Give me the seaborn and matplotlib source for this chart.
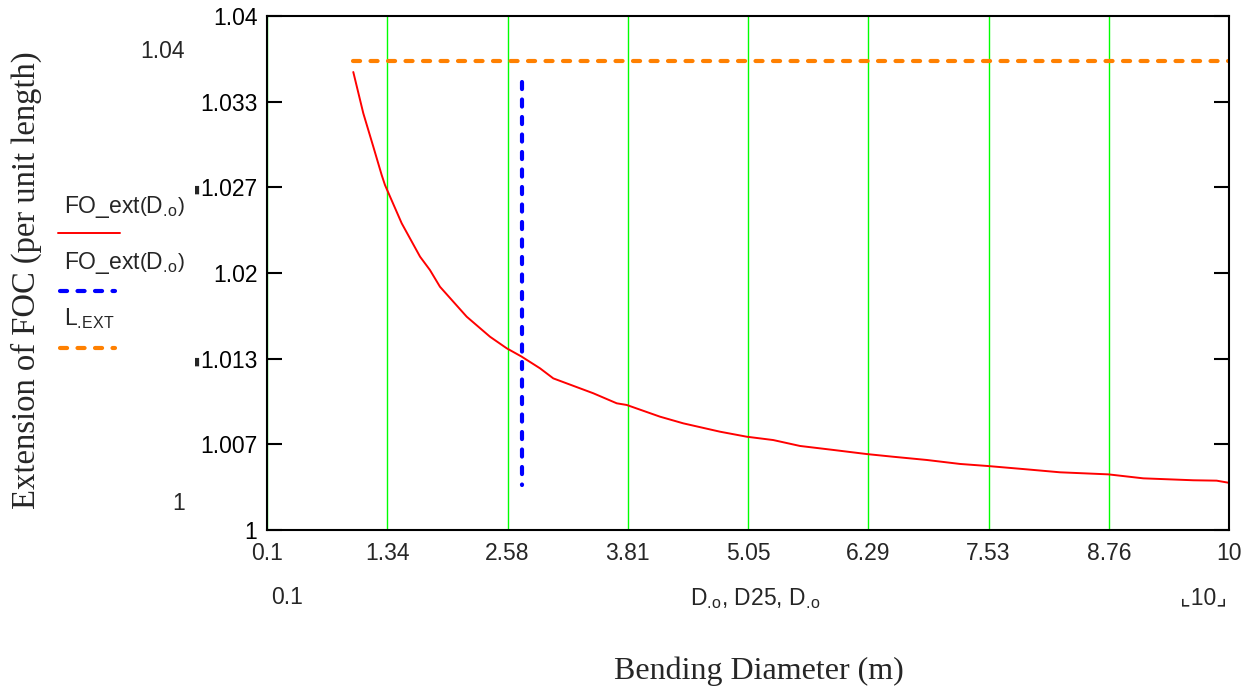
import numpy as np
import pandas as pd
import matplotlib
matplotlib.use('Agg')
import matplotlib.pyplot as plt
from matplotlib.lines import Line2D
import seaborn as sns

# Red curve FO_ext(D.o)
diam = [0.988, 1.091, 1.194, 1.280, 1.314, 1.486, 1.675, 1.777, 1.880, 2.155,
        2.395, 2.567, 2.721, 2.910, 3.046, 3.458, 3.699, 3.802, 4.144, 4.384,
        4.762, 5.037, 5.310, 5.585, 5.928, 6.272, 6.545, 6.889, 7.232, 7.517,
        7.918, 8.261, 8.758, 9.118, 9.633, 9.873, 9.993]
ext = [1.03564, 1.03243, 1.02983, 1.02763, 1.02685, 1.02387, 1.02127, 1.02023,
       1.01893, 1.01660, 1.01504, 1.01414, 1.01349, 1.01258, 1.01180, 1.01064,
       1.00986, 1.00973, 1.00882, 1.00830, 1.00765, 1.00726, 1.00700, 1.00654,
       1.00623, 1.00591, 1.00570, 1.00545, 1.00514, 1.00498, 1.00472, 1.00449,
       1.00433, 1.00402, 1.00387, 1.00384, 1.00368]

# Blue vertical line at D25
d25_x = [2.724, 2.724]
d25_y = [1.0349, 1.0035]

# Orange limit L.EXT
lim_x = [0.988, 10.0]
lim_y = [1.0365, 1.0365]

xticks = [0.1, 1.3375, 2.575, 3.8125, 5.05, 6.2875, 7.525, 8.7625, 10.0]
xtick_labels = ['0.1', '1.34', '2.58', '3.81', '5.05', '6.29', '7.53', '8.76', '10']
yticks = [1.0, 1.00667, 1.01333, 1.02, 1.02667, 1.03333, 1.04]
ytick_labels = ['1', '1.007', '1.013', '1.02', '1.027', '1.033', '1.04']

sns.set_style('white')
plt.rcParams['font.family'] = ['Liberation Sans', 'DejaVu Sans']
plt.rcParams['mathtext.fontset'] = 'custom'
plt.rcParams['mathtext.rm'] = 'Liberation Sans'
plt.rcParams['mathtext.it'] = 'Liberation Sans'

W, H = 1255, 691
FS = 16.5
DASH = (0, (1.7, 2.5))
fig = plt.figure(figsize=(W / 100, H / 100), dpi=100)
ax = fig.add_axes([267 / W, 1 - 530 / H, (1229 - 267) / W, (530 - 16) / H])

def fx(px):
    return px / W

def fy(py):
    return 1 - py / H

curve = pd.DataFrame({'D': diam, 'ext': ext})
sns.lineplot(data=curve, x='D', y='ext', color='#ff0000', lw=1.4,
             estimator=None, sort=False, ax=ax)
sns.lineplot(x=d25_x, y=d25_y, color='#0000ff', lw=3, estimator=None, sort=False,
             ax=ax).lines[-1].set(linestyle=DASH, dash_capstyle='round')
sns.lineplot(x=lim_x, y=lim_y, color='#ff8000', lw=3, estimator=None, sort=False,
             ax=ax).lines[-1].set(linestyle=DASH, dash_capstyle='round')

ax.set_xlim(0.1, 10)
ax.set_ylim(1, 1.04)
ax.set_xticks(xticks)
ax.set_xticklabels(xtick_labels)
ax.set_yticks(yticks)
ax.set_yticklabels(ytick_labels)
ax.set_xlabel('')
ax.set_ylabel('')
ax.grid(axis='x', color='#00ff00', lw=1)
ax.grid(axis='y', visible=False)
ax.set_axisbelow(True)
ax.tick_params(axis='y', direction='in', length=11, width=1.5, left=True, right=True,
               labelsize=FS, pad=7, colors='black')
ax.tick_params(axis='x', length=0, labelsize=FS, pad=9)
for s in ax.spines.values():
    s.set_visible(True)
    s.set_color('black')
    s.set_linewidth(1.5)

# Axis titles
fig.text(fx(26), fy(280), 'Extension of FOC (per unit length)', rotation=90,
         ha='center', va='center', family='Liberation Serif', fontsize=23.5)
fig.text(fx(759), fy(671), 'Bending Diameter (m)', ha='center', va='center',
         family='Liberation Serif', fontsize=23)

# Mathcad range labels
sub = r'$_{.\!\mathrm{o}}$'
fig.text(fx(185), fy(51), '1.04', ha='right', va='center', fontsize=FS)
fig.text(fx(185), fy(503), '1', ha='right', va='center', fontsize=FS)
fig.text(fx(271), fy(597), '0.1', ha='left', va='center', fontsize=FS)
fig.text(fx(755), fy(599), 'D' + sub + ', D25, D' + sub, ha='center',
         va='center', fontsize=FS)
fig.text(fx(1203), fy(598), '\u231e10\u231f', ha='center', va='center', fontsize=FS)
for py in (190, 362):
    fig.text(fx(197), fy(py), '\u25ae', ha='center', va='center', fontsize=8,
             family='DejaVu Sans')

# Legend
fo_label = r'FO_ext$\left(\mathrm{D}_{.\!\mathrm{o}}\right)$'
leg_items = [
    (fo_label, 207, 233, '#ff0000', '-', 120),
    (fo_label, 263, 291, '#0000ff', 'd', 115),
    (r'L$_{.\!\mathrm{EXT}}$', 319, 348, '#ff8000', 'd', 115),
]
for label, ty, ly, col, style, x2 in leg_items:
    fig.text(fx(64), fy(ty), label, ha='left', va='center', fontsize=FS)
    if style == '-':
        fig.add_artist(Line2D([fx(58), fx(x2)], [fy(ly), fy(ly)], color=col, lw=1.4))
    else:
        fig.add_artist(Line2D([fx(60), fx(x2)], [fy(ly), fy(ly)], color=col, lw=3,
                              linestyle=DASH, dash_capstyle='round'))

fig.savefig('out.png', dpi=100)
